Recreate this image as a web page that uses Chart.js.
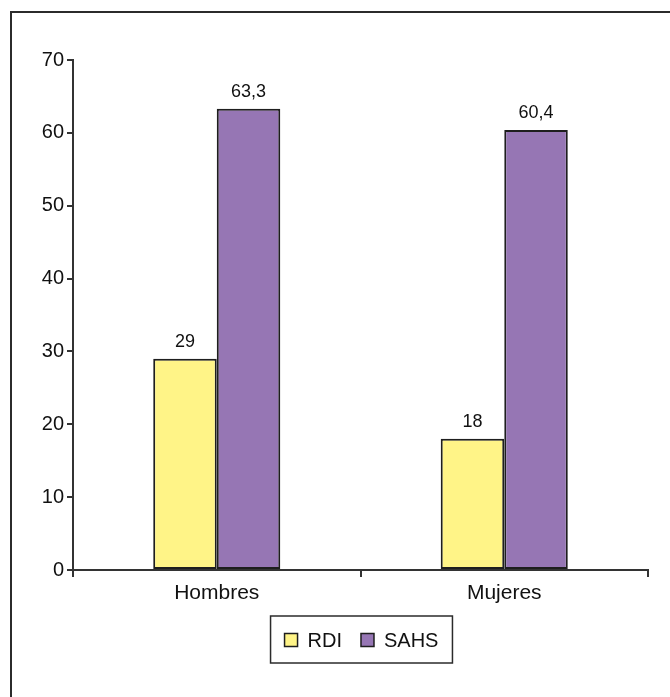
<!DOCTYPE html>
<html>
<head>
<meta charset="utf-8">
<script src="https://cdn.jsdelivr.net/npm/chart.js@4.4.1/dist/chart.umd.min.js"></script>
<style>
  html, body { margin: 0; padding: 0; background: #ffffff; }
  #wrap { position: relative; width: 670px; height: 697px; }
  canvas { display: block; }
</style>
</head>
<body>
<div id="wrap"><canvas id="chart" width="670" height="697"></canvas></div>
<script>
// Categories, series and axis ticks
const categories = ['Hombres', 'Mujeres'];
const seriesNames = ['RDI', 'SAHS'];
const rdiValues = [29, 18];
const sahsValues = [63.3, 60.4];
const yTicks = [0, 10, 20, 30, 40, 50, 60, 70];

const FONT = "'Liberation Sans', Arial, Helvetica, sans-serif";
const AXIS_COLOR = '#333333';

// Thin frame along the top and left edges of the figure
const framePlugin = {
  id: 'frame',
  beforeDraw(chart) {
    const ctx = chart.ctx;
    ctx.save();
    ctx.fillStyle = '#ffffff';
    ctx.fillRect(0, 0, chart.width, chart.height);
    ctx.strokeStyle = '#2b2b2b';
    ctx.lineWidth = 2;
    ctx.beginPath();
    ctx.moveTo(chart.width, 12);
    ctx.lineTo(11, 12);
    ctx.lineTo(11, chart.height);
    ctx.stroke();
    ctx.restore();
  }
};

// Value labels above each bar, with a decimal comma
const valueLabels = {
  id: 'valueLabels',
  afterDatasetsDraw(chart) {
    const ctx = chart.ctx;
    ctx.save();
    ctx.font = '18px ' + FONT;
    ctx.fillStyle = '#111111';
    ctx.textAlign = 'center';
    ctx.textBaseline = 'bottom';
    chart.data.datasets.forEach((ds, di) => {
      chart.getDatasetMeta(di).data.forEach((bar, i) => {
        const txt = String(ds.data[i]).replace('.', ',');
        ctx.fillText(txt, bar.x, bar.y - 8);
      });
    });
    ctx.restore();
  }
};

// Boxed legend centred under the plot area
const boxedLegend = {
  id: 'boxedLegend',
  afterDraw(chart) {
    const ctx = chart.ctx;
    const area = chart.chartArea;
    const fontSize = 20, box = 13, gap = 10, itemPad = 19, margin = 14;
    ctx.save();
    ctx.font = fontSize + 'px ' + FONT;
    const items = chart.data.datasets.map(ds => ({
      text: ds.label, fill: ds.backgroundColor, stroke: ds.borderColor,
      w: box + gap + ctx.measureText(ds.label).width
    }));
    const total = items.reduce((s, it) => s + it.w, 0) + itemPad * (items.length - 1);
    const cx = (area.left + area.right) / 2 + 1;
    const cy = 640;
    const left = cx - total / 2;
    ctx.strokeStyle = '#2b2b2b';
    ctx.lineWidth = 1.5;
    ctx.strokeRect(left - margin, 616, total + margin * 2, 47);
    let x = left;
    ctx.textBaseline = 'middle';
    ctx.textAlign = 'left';
    items.forEach(it => {
      ctx.fillStyle = it.fill;
      ctx.fillRect(x, cy - box / 2, box, box);
      ctx.strokeStyle = it.stroke;
      ctx.lineWidth = 1.5;
      ctx.strokeRect(x, cy - box / 2, box, box);
      ctx.fillStyle = '#111111';
      ctx.fillText(it.text, x + box + gap, cy + 1);
      x += it.w + itemPad;
    });
    ctx.restore();
  }
};

new Chart(document.getElementById('chart'), {
  type: 'bar',
  data: {
    labels: categories,
    datasets: [
      {
        label: seriesNames[0],
        data: rdiValues,
        backgroundColor: '#FFF487',
        borderColor: '#1e1e1e',
        borderWidth: 2,
        borderSkipped: false
      },
      {
        label: seriesNames[1],
        data: sahsValues,
        backgroundColor: '#9676B4',
        borderColor: '#1e1e1e',
        borderWidth: 2,
        borderSkipped: false
      }
    ]
  },
  options: {
    responsive: false,
    animation: false,
    devicePixelRatio: 1,
    layout: { padding: { top: 60, right: 22, bottom: 87, left: 0 } },
    datasets: { bar: { categoryPercentage: 0.442, barPercentage: 1.0 } },
    plugins: {
      legend: { display: false },
      tooltip: { enabled: false }
    },
    scales: {
      x: {
        type: 'category',
        offset: true,
        afterFit(scale) { scale.height = 40; },
        grid: {
          display: true, offset: true, drawOnChartArea: false, drawTicks: true,
          tickLength: 7, color: AXIS_COLOR, lineWidth: 2
        },
        border: { display: true, color: AXIS_COLOR, width: 2 },
        ticks: {
          color: '#111111', padding: 4,
          font: { family: FONT, size: 21 }
        }
      },
      y: {
        type: 'linear',
        min: yTicks[0],
        max: yTicks[yTicks.length - 1],
        afterFit(scale) { scale.width = 73; },
        afterBuildTicks(scale) { scale.ticks = yTicks.map(v => ({ value: v })); },
        grid: {
          display: true, drawOnChartArea: false, drawTicks: true,
          tickLength: 6, color: AXIS_COLOR, lineWidth: 2
        },
        border: { display: true, color: AXIS_COLOR, width: 2 },
        ticks: {
          color: '#111111', padding: 3,
          font: { family: FONT, size: 20 }
        }
      }
    }
  },
  plugins: [framePlugin, valueLabels, boxedLegend]
});
</script>
</body>
</html>
